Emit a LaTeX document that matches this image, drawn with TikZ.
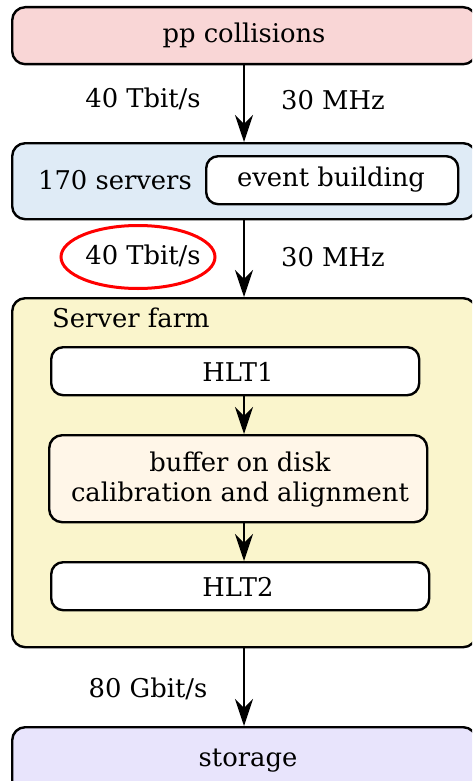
\documentclass[tikz,border=0pt]{standalone}
\usepackage{fontspec}
\setmainfont{DejaVu Serif}
\usetikzlibrary{arrows.meta,shapes.geometric}

\definecolor{ppfill}{RGB}{249,214,214}
\definecolor{srvfill}{RGB}{223,235,246}
\definecolor{farmfill}{RGB}{250,245,204}
\definecolor{buffill}{RGB}{255,246,232}
\definecolor{storfill}{RGB}{232,228,252}

\tikzset{
  box/.style={draw=black, line width=2.4pt, rounded corners=13pt, inner sep=0pt, anchor=north west},
  txt/.style={font=\fontsize{25.8}{30}\selectfont, inner sep=0pt},
  arr/.style={draw=black, line width=2.2pt, -{Stealth[length=27pt,width=18pt,inset=9pt]}},
}

\begin{document}
\begin{tikzpicture}[x=1pt,y=-1pt]
\useasboundingbox (0,0) rectangle (472,781);
\clip (0,0) rectangle (472,781);

% common vertical axis of the data flow
\coordinate (ax) at (244,0);

% top: collisions
\node[box, fill=ppfill, minimum width=464pt, minimum height=57pt] (pp) at (11,6) {};
\node[txt] (pplbl) at (244,35) {pp collisions};

% event building servers
\node[box, fill=srvfill, minimum width=464pt, minimum height=76pt] (srv) at (11,142) {};
\node[txt] (srvlbl) at (115,180) {170 servers};
\node[box, fill=white, minimum width=252pt, minimum height=48pt, rounded corners=12pt] (eb) at (205,155) {};
\node[txt] (eblbl) at (331,180) {event building};

% server farm container
\node[box, fill=farmfill, minimum width=464pt, minimum height=349pt] (farm) at (11,297) {};
\node[txt, anchor=west] (farmlbl) at (52,318) {Server farm};

\node[box, fill=white, minimum width=368pt, minimum height=48pt, rounded corners=12pt] (hlt1) at (50,346) {};
\node[txt] (hlt1lbl) at (238,372) {HLT1};

\node[box, fill=buffill, minimum width=378pt, minimum height=87pt] (buf) at (48,434) {};
\node[txt, align=center] (buflbl) at (240,480) {buffer on disk\\calibration and alignment};

\node[box, fill=white, minimum width=378pt, minimum height=48pt, rounded corners=12pt] (hlt2) at (50,561) {};
\node[txt] (hlt2lbl) at (238,587) {HLT2};

% storage
\node[box, fill=storfill, minimum width=464pt, minimum height=70pt] (stor) at (11,726) {};
\node[txt] (storlbl) at (248,761) {storage};

% connectors
\draw[arr] (pp.south -| ax) -- (srv.north -| ax);
\draw[arr] (srv.south -| ax) -- (farm.north -| ax);
\draw[arr] (hlt1.south -| ax) -- (buf.north -| ax);
\draw[arr] (buf.south -| ax) -- (hlt2.north -| ax);
\draw[arr] (farm.south -| ax) -- (stor.north -| ax);

% rate labels
\node[txt] (r1) at (143,99) {40 Tbit/s};
\node[txt] (f1) at (333,100) {30 MHz};
\node[txt] (r2) at (143,256) {40 Tbit/s};
\node[txt] (f2) at (333,257) {30 MHz};
\node[txt] (r3) at (148,689) {80 Gbit/s};

% highlight around the second data rate
\node[draw=red, line width=3pt, ellipse, minimum width=154pt, minimum height=63pt, inner sep=0pt] (hl) at (138,257) {};
\end{tikzpicture}
\end{document}
